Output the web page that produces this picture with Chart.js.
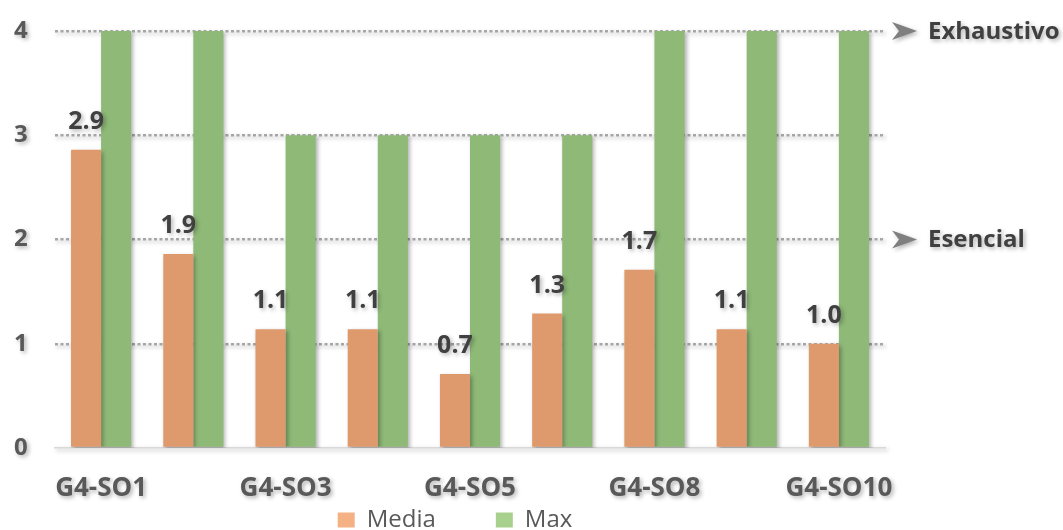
<!DOCTYPE html>
<html lang="es">
<head>
  <meta charset="UTF-8">
  <title>Media y Max por indicador G4-SO</title>
  <script src="https://cdn.jsdelivr.net/npm/chart.js"></script>
  <style>
    html, body {
      margin: 0;
      padding: 0;
      background: #fff;
    }
    #chart-container {
      width: 1063px;
      height: 530px;
    }
  </style>
</head>
<body>
  <div id="chart-container">
    <canvas id="soChart" width="1063" height="530"></canvas>
  </div>

  <script>
    const categories = ['G4-SO1', 'G4-SO2', 'G4-SO3', 'G4-SO4', 'G4-SO5', 'G4-SO7', 'G4-SO8', 'G4-SO9', 'G4-SO10'];
    const mediaValues = [2.86, 1.86, 1.14, 1.14, 0.71, 1.29, 1.71, 1.14, 1.00];
    const maxValues = [4, 4, 3, 3, 3, 3, 4, 4, 4];
    const yTicks = [0, 1, 2, 3, 4];
    const levelValues = [4, 2];
    const levelLabels = ['Exhaustivo', 'Esencial'];

    const textColor = '#595959';
    const fontFamily = '"Open Sans", "DejaVu Sans", sans-serif';

    // shadows like the excel original, but not on the legend
    const excelLook = {
      id: 'excelLook',
      afterLayout(chart) {
        // legend sits right under the axis labels, a little left of centre
        const legend = chart.legend;
        legend.top = chart.chartArea.bottom;
        legend.right -= 30;
      },
      beforeDraw(chart) {
        const legend = chart.legend;
        if (legend && !legend._plain) {
          const origDraw = legend.draw.bind(legend);
          legend.draw = function(area) {
            const c = this.ctx;
            c.save();
            c.shadowColor = 'rgba(0,0,0,0)';
            origDraw(area);
            c.restore();
          };
          legend._plain = true;
        }
        const ctx = chart.ctx;
        ctx.save();
        ctx.shadowColor = 'rgba(0,0,0,0.3)';
        ctx.shadowBlur = 4;
        ctx.shadowOffsetX = 2;
        ctx.shadowOffsetY = 2;
      },
      afterDatasetsDraw(chart) {
        const ctx = chart.ctx;
        const meta = chart.getDatasetMeta(0);
        ctx.save();
        ctx.font = 'bold 25px ' + fontFamily;
        ctx.fillStyle = '#404040';
        ctx.textAlign = 'center';
        ctx.textBaseline = 'alphabetic';
        meta.data.forEach((bar, i) => {
          ctx.fillText(mediaValues[i].toFixed(1), bar.x, bar.y - 21);
        });

        const area = chart.chartArea;
        const yScale = chart.scales.y;
        levelValues.forEach((v, i) => {
          const py = yScale.getPixelForValue(v);
          const x0 = area.right + 7;
          ctx.fillStyle = '#7f7f7f';
          ctx.beginPath();
          ctx.moveTo(x0, py - 9);
          ctx.lineTo(x0 + 25, py);
          ctx.lineTo(x0, py + 9);
          ctx.lineTo(x0 + 7, py);
          ctx.closePath();
          ctx.fill();
          ctx.fillStyle = '#404040';
          ctx.textAlign = 'left';
          ctx.textBaseline = 'middle';
          ctx.font = 'bold 24px ' + fontFamily;
          ctx.fillText(levelLabels[i], area.right + 43, py + 1);
        });
        ctx.restore();
      },
      afterDraw(chart) {
        chart.ctx.restore();
      }
    };

    const legendColors = ['#F4B183', '#A9D18E'];

    const ctx = document.getElementById('soChart').getContext('2d');
    new Chart(ctx, {
      type: 'bar',
      data: {
        labels: categories,
        datasets: [
          {
            label: 'Media',
            data: mediaValues,
            backgroundColor: '#DE996C',
            borderWidth: 0,
            barPercentage: 1,
            categoryPercentage: 0.652
          },
          {
            label: 'Max',
            data: maxValues,
            backgroundColor: '#8EB977',
            borderWidth: 0,
            barPercentage: 1,
            categoryPercentage: 0.652
          }
        ]
      },
      options: {
        responsive: false,
        animation: false,
        devicePixelRatio: 1,
        layout: {
          padding: { top: 31, right: 178, bottom: 0, left: 14 }
        },
        scales: {
          x: {
            offset: true,
            grid: { display: false },
            border: { display: true, color: '#d9d9d9', width: 1.5 },
            ticks: {
              autoSkip: false,
              maxRotation: 0,
              padding: 17,
              color: textColor,
              font: { family: fontFamily, size: 26, weight: 'bold' },
              callback: function(value, index) {
                return index % 2 === 0 ? categories[index] : '';
              }
            },
            afterFit: function(scale) {
              scale.height = 55;
            }
          },
          y: {
            min: yTicks[0],
            max: yTicks[yTicks.length - 1],
            afterBuildTicks: function(scale) {
              scale.ticks = yTicks.map(v => ({ value: v }));
            },
            grid: {
              drawTicks: false,
              lineWidth: 2.5,
              color: function(c) {
                return c.tick && c.tick.value === 0 ? 'rgba(0,0,0,0)' : '#a6a6a6';
              }
            },
            border: { display: false, dash: [3, 2.5] },
            ticks: {
              padding: 0,
              crossAlign: 'far',
              color: textColor,
              font: { family: fontFamily, size: 24, weight: 'bold' }
            },
            afterFit: function(scale) {
              scale.width = 41;
            }
          }
        },
        plugins: {
          legend: {
            position: 'bottom',
            fullSize: false,
            maxHeight: 27,
            labels: {
              boxWidth: 17,
              boxHeight: 15,
              padding: 60,
              color: textColor,
              font: { family: fontFamily, size: 24 },
              generateLabels: function(chart) {
                const items = Chart.defaults.plugins.legend.labels.generateLabels(chart);
                items.forEach((item, i) => {
                  item.fillStyle = legendColors[i];
                  item.strokeStyle = legendColors[i];
                  item.lineWidth = 0;
                });
                return items;
              }
            }
          },
          tooltip: { enabled: false }
        }
      },
      plugins: [excelLook]
    });
  </script>
</body>
</html>
